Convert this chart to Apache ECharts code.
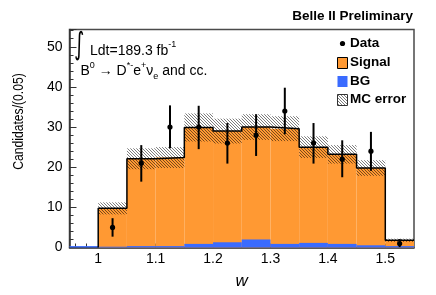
<!DOCTYPE html>
<html><head><meta charset="utf-8">
<script src="https://cdn.jsdelivr.net/npm/echarts@6/dist/echarts.min.js"></script>
<style>html,body{margin:0;padding:0;background:#fff}#c{width:436px;height:295px}</style>
</head><body><div id="c"></div>
<script>
// ---- data ----
const binLow = [0.95, 1.00, 1.05, 1.10, 1.15, 1.20, 1.25, 1.30, 1.35, 1.40, 1.45, 1.50];
const binWidth = 0.05;
// stacked top (signal on top of BG)
const signalStack = [0, 9.75, 22.1, 22.4, 29.9, 29.0, 30.0, 29.6, 25.0, 23.2, 19.8, 1.8];
const bgValues = [0.35, 0.2, 0.35, 0.35, 0.9, 1.3, 2.0, 0.9, 1.15, 0.9, 0.55, 0.35];
const mcError = [0, 1.5, 2.6, 2.6, 3.5, 3.1, 3.2, 3.1, 2.7, 2.3, 1.95, 0.4];
const dataX = [1.025, 1.075, 1.125, 1.175, 1.225, 1.275, 1.325, 1.375, 1.425, 1.475, 1.525];
const dataY = [5, 21, 30, 30, 26, 28, 34, 26, 22, 24, 1];
const dataLow = [2.7, 16.4, 24.7, 24.5, 20.9, 22.8, 28.2, 20.9, 17.5, 19.1, 0.1];
const dataHigh = [7.3, 25.5, 35.4, 35.3, 31.0, 33.2, 39.8, 31.0, 26.7, 28.8, 2.1];
const xTickLabels = [1.0, 1.1, 1.2, 1.3, 1.4, 1.5];
const xTickMarks = [0.96, 0.98, 1.0, 1.02, 1.04, 1.06, 1.08, 1.1, 1.12, 1.14, 1.16, 1.18, 1.2, 1.22, 1.24, 1.26, 1.28, 1.3, 1.32, 1.34, 1.36, 1.38, 1.4, 1.42, 1.44, 1.46, 1.48, 1.5, 1.52, 1.54];

// ---- styles ----
const ORANGE = '#ff9933';
const BLUE = '#3a6bff';
const FONT = "'Liberation Sans', Arial, sans-serif";

function makeHatch() {
  const c = document.createElement('canvas');
  c.width = 3; c.height = 3;
  const ctx = c.getContext('2d');
  const img = ctx.createImageData(3, 3);
  for (let y = 0; y < 3; y++) for (let x = 0; x < 3; x++) {
    const k = (y * 3 + x) * 4;
    if (((x - y) % 3 + 3) % 3 === 0) { img.data[k] = 0; img.data[k+1] = 0; img.data[k+2] = 0; img.data[k+3] = 130; }
  }
  ctx.putImageData(img, 0, 0);
  return c;
}
const hatch = { image: makeHatch(), repeat: 'repeat' };

const chart = echarts.init(document.getElementById('c'), null, { renderer: 'canvas' });

function rectBetween(api, x0, x1, y0, y1, style) {
  const p0 = api.coord([x0, y0]);
  const p1 = api.coord([x1, y1]);
  return { type: 'rect', shape: { x: p0[0], y: p1[1], width: p1[0] - p0[0], height: p0[1] - p1[1] }, style: style };
}

const sigData = binLow.map((x, i) => [x, x + binWidth, signalStack[i]]);
const bgData = binLow.map((x, i) => [x, x + binWidth, bgValues[i]]);
const errData = binLow.map((x, i) => [x, x + binWidth, signalStack[i] - mcError[i], signalStack[i] + mcError[i]]).filter((d, i) => mcError[i] > 0);

// outline step points
const outline = [];
let started = false;
binLow.forEach((x, i) => {
  if (signalStack[i] > 0) {
    if (!started) { outline.push([x, 0]); started = true; }
    outline.push([x, signalStack[i]]);
  }
});
outline.push([binLow[binLow.length - 1] + binWidth, signalStack[signalStack.length - 1]]);

const pts = dataX.map((x, i) => [x, dataY[i], dataLow[i], dataHigh[i]]);

const option = {
  animation: false,
  backgroundColor: '#fff',
  grid: { left: 69.5, right: 22, top: 29.5, bottom: 47.5, show: true, borderColor: '#4a4a4a', borderWidth: 1.5, backgroundColor: 'transparent' },
  xAxis: {
    type: 'value', min: 0.95, max: 1.55,
    axisLine: { show: true, lineStyle: { color: '#333', width: 1.5 } },
    axisTick: { show: true, inside: true, length: 4, customValues: xTickMarks, lineStyle: { color: '#333' } },
    axisLabel: { customValues: xTickLabels, formatter: v => String(+v.toFixed(1)), color: '#000', fontSize: 14, fontFamily: FONT, margin: 5 },
    splitLine: { show: false }
  },
  yAxis: {
    type: 'value', min: 0, max: 54.3, interval: 10,
    axisLine: { show: true, lineStyle: { color: '#333', width: 1.5 } },
    axisTick: { show: true, inside: true, length: 7, lineStyle: { color: '#333' } },
    minorTick: { show: true, splitNumber: 5, length: 4, lineStyle: { color: '#333' } },
    axisLabel: { color: '#000', fontSize: 14, fontFamily: FONT, margin: 7, showMaxLabel: false },
    splitLine: { show: false }
  },
  series: [
    { name: 'Signal', type: 'custom', z: 2, data: sigData, encode: { x: [0, 1], y: 2 },
      renderItem: (p, api) => rectBetween(api, api.value(0), api.value(1), 0, api.value(2), { fill: ORANGE }) },
    { name: 'BG', type: 'custom', z: 3, data: bgData, encode: { x: [0, 1], y: 2 },
      renderItem: (p, api) => rectBetween(api, api.value(0), api.value(1), 0, api.value(2), { fill: BLUE }) },
    { name: 'MC error', type: 'custom', z: 4, data: errData, encode: { x: [0, 1], y: [2, 3] },
      renderItem: (p, api) => rectBetween(api, api.value(0), api.value(1), api.value(2), api.value(3), { fill: hatch }) },
    { name: 'outline', type: 'line', z: 5, step: 'end', data: outline, showSymbol: false,
      lineStyle: { color: '#000', width: 1.5 } },
    { name: 'Data', type: 'custom', z: 6, data: pts, encode: { x: 0, y: [1, 2, 3] },
      renderItem: (p, api) => {
        const c = api.coord([api.value(0), api.value(1)]);
        const lo = api.coord([api.value(0), api.value(2)]);
        const hi = api.coord([api.value(0), api.value(3)]);
        return { type: 'group', children: [
          { type: 'line', shape: { x1: c[0], y1: lo[1], x2: c[0], y2: hi[1] }, style: { stroke: '#000', lineWidth: 2 } },
          { type: 'circle', shape: { cx: c[0], cy: c[1], r: 2.6 }, style: { fill: '#000' } }
        ] };
      } }
  ],
  graphic: [
    { type: 'text', right: 23, top: 9, style: { text: 'Belle II Preliminary', font: `bold 13.5px ${FONT}`, fill: '#000' } },
    // legend
    { type: 'circle', shape: { cx: 342.5, cy: 43.5, r: 2.6 }, style: { fill: '#000' } },
    { type: 'text', x: 350, y: 43.5, style: { text: 'Data', font: `bold 13.5px ${FONT}`, fill: '#000', verticalAlign: 'middle' } },
    { type: 'rect', shape: { x: 337.5, y: 57.5, width: 10, height: 11 }, style: { fill: ORANGE, stroke: '#000', lineWidth: 1 } },
    { type: 'text', x: 350, y: 62.5, style: { text: 'Signal', font: `bold 13.5px ${FONT}`, fill: '#000', verticalAlign: 'middle' } },
    { type: 'rect', shape: { x: 337.5, y: 76, width: 10, height: 11 }, style: { fill: BLUE } },
    { type: 'text', x: 350, y: 81, style: { text: 'BG', font: `bold 13.5px ${FONT}`, fill: '#000', verticalAlign: 'middle' } },
    { type: 'rect', shape: { x: 337.5, y: 94.5, width: 10, height: 11 }, style: { fill: hatch, stroke: '#333', lineWidth: 1 } },
    { type: 'text', x: 350, y: 99.5, style: { text: 'MC error', font: `bold 13.5px ${FONT}`, fill: '#000', verticalAlign: 'middle' } },
    // annotations
    { type: 'text', x: 79, y: 46, scaleX: 0.7, scaleY: 1.1, style: { text: '∫', font: `28px 'DejaVu Sans'`, fill: '#000', align: 'center', verticalAlign: 'middle' } },
    { type: 'text', x: 90, y: 49.5, style: {
        text: '{t|Ldt=189.3 fb}{s|-1}', verticalAlign: 'middle', fill: '#000',
        rich: { t: { font: `14px ${FONT}`, fill: '#000', lineHeight: 18, verticalAlign: 'bottom' },
                s: { font: `9px ${FONT}`, fill: '#000', lineHeight: 18, verticalAlign: 'top' } } } },
    { type: 'text', x: 80.5, y: 71, style: {
        text: '{t|B}{s|0}{t| → D}{s|*-}{t|e}{s|+}{t|ν}{b|e}{t| and cc.}', verticalAlign: 'middle', fill: '#000',
        rich: { t: { font: `14px ${FONT}`, fill: '#000', lineHeight: 20 },
                s: { font: `9px ${FONT}`, fill: '#000', lineHeight: 20, verticalAlign: 'top' },
                b: { font: `9px ${FONT}`, fill: '#000', lineHeight: 20, verticalAlign: 'bottom' } } } },
    // axis titles
    { type: 'text', x: 19, y: 121.5, rotation: Math.PI / 2, scaleX: 0.81, style: { text: 'Candidates/(0.05)', font: `15px ${FONT}`, fill: '#000', align: 'center', verticalAlign: 'middle' } },
    { type: 'text', x: 241.7, y: 281, style: { text: 'w', font: `italic 17px ${FONT}`, fill: '#000', align: 'center', verticalAlign: 'middle' } }
  ]
};
chart.setOption(option);
</script>
</body></html>
